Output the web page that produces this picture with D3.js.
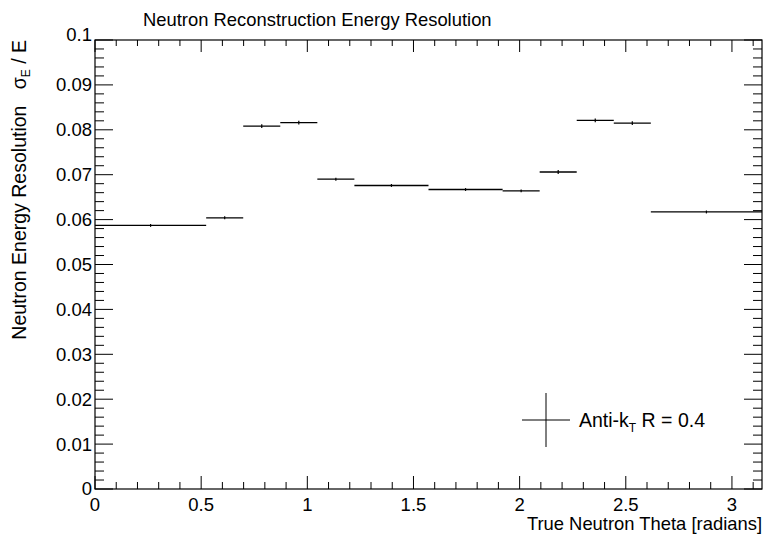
<!DOCTYPE html>
<html>
<head>
<meta charset="utf-8">
<script src="https://cdn.jsdelivr.net/npm/d3@7"></script>
<style>
body { margin: 0; background: #fff; }
svg { display: block; font-family: "Liberation Sans", Arial, Helvetica, sans-serif; }
</style>
</head>
<body>
<svg width="766" height="539"></svg>
<script>
// bin edges in degrees, converted to radians below
var binEdgesDeg = [0, 30, 40, 50, 60, 70, 90, 110, 120, 130, 140, 150, 180];
var resolution = [0.0587, 0.0604, 0.0808, 0.0816, 0.0690, 0.0676, 0.0667, 0.0664, 0.0706, 0.0821, 0.0815, 0.0617];
var resError = [0.0001, 0.0001, 0.0002, 0.0002, 0.0001, 0.0001, 0.0001, 0.0001, 0.0002, 0.0002, 0.0002, 0.0001];
var xTicks = [0, 0.5, 1, 1.5, 2, 2.5, 3];
var yTicks = [0, 0.01, 0.02, 0.03, 0.04, 0.05, 0.06, 0.07, 0.08, 0.09, 0.1];

var svg = d3.select("svg");
var margin = { left: 95, right: 4, top: 40, bottom: 50 };
var width = 766 - margin.left - margin.right;
var height = 539 - margin.top - margin.bottom;

var x = d3.scaleLinear().domain([0, Math.PI]).range([0, width]);
var y = d3.scaleLinear().domain([0, 0.1]).range([height, 0]);

var g = svg.append("g").attr("transform", "translate(" + margin.left + "," + margin.top + ")");

var bins = resolution.map(function (v, i) {
    return {
        lo: binEdgesDeg[i] * Math.PI / 180,
        hi: binEdgesDeg[i + 1] * Math.PI / 180,
        v: v,
        e: resError[i]
    };
});

// frame
g.append("rect")
    .attr("x", 0).attr("y", 0)
    .attr("width", width).attr("height", height)
    .attr("fill", "none").attr("stroke", "#000").attr("stroke-width", 1.2);

// x ticks (bottom & top)
var xMinor = d3.range(0, 32).map(function (i) { return i / 10; });
var xt = g.append("g").attr("class", "xticks");
xMinor.forEach(function (t) {
    var major = Math.abs(t * 2 - Math.round(t * 2)) < 1e-9;
    xt.append("line").attr("x1", x(t)).attr("x2", x(t))
        .attr("y1", height).attr("y2", height - (major ? 13 : 7))
        .attr("stroke", "#000");
    xt.append("line").attr("x1", x(t)).attr("x2", x(t))
        .attr("y1", 0).attr("y2", major ? 12 : 6)
        .attr("stroke", "#000");
});
xt.selectAll("text").data(xTicks).enter().append("text")
    .attr("x", function (d) { return x(d); })
    .attr("y", height + 22)
    .attr("text-anchor", "middle")
    .attr("font-size", 18.5)
    .text(function (d) { return d; });

// y ticks (left & right)
var yMinor = d3.range(0, 51).map(function (i) { return i * 0.002; });
var yt = g.append("g").attr("class", "yticks");
yMinor.forEach(function (t, i) {
    var major = i % 5 == 0;
    yt.append("line").attr("x1", 0).attr("x2", major ? 18 : 9)
        .attr("y1", y(t)).attr("y2", y(t)).attr("stroke", "#000");
    yt.append("line").attr("x1", width).attr("x2", width - (major ? 18 : 9))
        .attr("y1", y(t)).attr("y2", y(t)).attr("stroke", "#000");
});
yt.selectAll("text").data(yTicks).enter().append("text")
    .attr("x", -3)
    .attr("y", function (d) { return y(d) - (d == 0.1 ? 5 : 0); })
    .attr("dy", "0.35em")
    .attr("text-anchor", "end")
    .attr("font-size", 18.5)
    .text(function (d) { return d; });

// histogram with error bars
var hist = g.append("g").attr("class", "hist");
hist.selectAll("line.h").data(bins).enter().append("line")
    .attr("class", "h")
    .attr("x1", function (d) { return x(d.lo); })
    .attr("x2", function (d) { return x(d.hi); })
    .attr("y1", function (d) { return y(d.v); })
    .attr("y2", function (d) { return y(d.v); })
    .attr("stroke", "#000").attr("stroke-width", 1.3);
hist.selectAll("line.v").data(bins).enter().append("line")
    .attr("class", "v")
    .attr("x1", function (d) { return x((d.lo + d.hi) / 2); })
    .attr("x2", function (d) { return x((d.lo + d.hi) / 2); })
    .attr("y1", function (d) { return y(d.v - d.e) + 1; })
    .attr("y2", function (d) { return y(d.v + d.e) - 1; })
    .attr("stroke", "#000").attr("stroke-width", 1.2);

// legend
var lg = svg.append("g").attr("transform", "translate(546,420)");
lg.append("line").attr("x1", -24).attr("x2", 24).attr("y1", 0).attr("y2", 0).attr("stroke", "#000");
lg.append("line").attr("x1", 0).attr("x2", 0).attr("y1", -27).attr("y2", 27).attr("stroke", "#000");
var lt = lg.append("text").attr("x", 33).attr("y", 7).attr("font-size", 19.5);
lt.append("tspan").text("Anti-k");
lt.append("tspan").attr("font-size", 12).attr("dy", 5).text("T");
lt.append("tspan").attr("dy", -5).text(" R = 0.4");

// titles
svg.append("text").attr("x", 143).attr("y", 26).attr("font-size", 18.4)
    .text("Neutron Reconstruction Energy Resolution");

svg.append("text").attr("x", margin.left + width).attr("y", 530)
    .attr("text-anchor", "end").attr("font-size", 18.4)
    .text("True Neutron Theta [radians]");

var yl = svg.append("text")
    .attr("transform", "translate(26," + margin.top + ") rotate(-90)")
    .attr("text-anchor", "end").attr("font-size", 19.5);
yl.append("tspan").text("Neutron Energy Resolution\u00a0\u00a0\u00a0σ");
yl.append("tspan").attr("font-size", 12).attr("dy", 4).text("E");
yl.append("tspan").attr("dy", -4).text(" / E");
</script>
</body>
</html>
